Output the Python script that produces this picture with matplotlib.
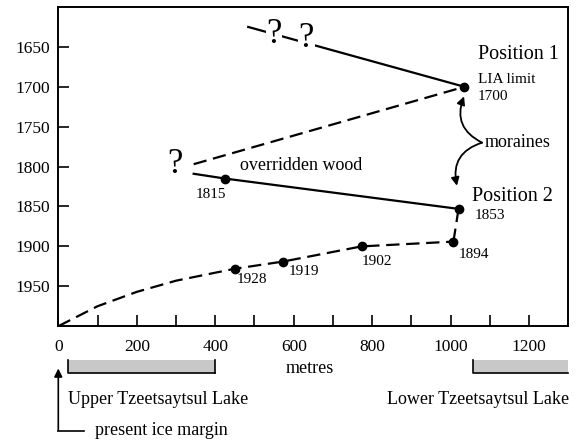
import matplotlib
matplotlib.use("Agg")
import matplotlib.pyplot as plt
from matplotlib.patches import Rectangle

plt.rcParams['font.family'] = ['Liberation Serif', 'DejaVu Serif']

# --- data ---
pos1 = (1035, 1700)
top_line_x = [484, 1035]
top_line_y = [1625, 1700]
dash_upper_x = [345, 1035]
dash_upper_y = [1797, 1700]
wood_x = [345, 425, 1020]
wood_y = [1809, 1815, 1853]
wood_pts_x = [425, 1020]
wood_pts_y = [1815, 1853]
link_x = [1020, 1007]
link_y = [1853, 1894]
retreat_x = [0, 100, 200, 300, 450, 573, 773, 1007]
retreat_y = [2000, 1975, 1957, 1943, 1928, 1919, 1900, 1894]
retreat_pts_x = [450, 573, 773, 1007]
retreat_pts_y = [1928, 1919, 1900, 1894]
retreat_labels = ['1928', '1919', '1902', '1894']
upper_lake = (25, 400)
lower_lake = (1057, 1300)
yticks = [1650, 1700, 1750, 1800, 1850, 1900, 1950]
xticks = [0, 200, 400, 600, 800, 1000, 1200]

fig = plt.figure(figsize=(5.8, 4.45), dpi=100)
ax = fig.add_axes([0.1005, 0.267, 0.8795, 0.7173])
ax.set_xlim(0, 1300)
ax.set_ylim(2000, 1600)

lw = 1.6
dash = (0, (6, 3))
ax.plot(top_line_x, top_line_y, color='black', lw=lw, zorder=2)
ax.plot(dash_upper_x, dash_upper_y, color='black', lw=lw, linestyle=dash)
ax.plot(*pos1, 'o', color='black', ms=6)
ax.plot(wood_x, wood_y, color='black', lw=lw)
ax.plot(wood_pts_x, wood_pts_y, 'o', color='black', ms=6)
ax.plot(link_x, link_y, color='black', lw=lw, linestyle=dash)
ax.plot(retreat_x, retreat_y, color='black', lw=lw, linestyle=dash)
ax.plot(retreat_pts_x, retreat_pts_y, 'o', color='black', ms=6)

label_offsets = [(5, 13), (15, 12), (0, 19), (14, 16)]
for x, y, t, (dx, dy) in zip(retreat_pts_x, retreat_pts_y, retreat_labels, label_offsets):
    ax.text(x + dx, y + dy, t, fontsize=11, ha='left', va='center')

# question marks
qkw = dict(fontsize=25, ha='center', va='center', zorder=5,
           bbox=dict(facecolor='white', edgecolor='none', pad=0.5))
ax.text(550, 1634, '?', **qkw)
ax.text(632, 1640, '?', **qkw)
ax.text(297, 1797, '?', fontsize=25, ha='center', va='center')

ax.text(1070, 1660, 'Position 1', fontsize=14.5, ha='left', va='center')
ax.text(1070, 1691, 'LIA limit', fontsize=11, ha='left', va='center')
ax.text(1070, 1712, '1700', fontsize=11, ha='left', va='center')
ax.text(1054, 1837, 'Position 2', fontsize=14.5, ha='left', va='center')
ax.text(1062, 1861, '1853', fontsize=11, ha='left', va='center')
ax.text(463, 1799, 'overridden wood', fontsize=13, ha='left', va='center')
ax.text(349, 1835, '1815', fontsize=11, ha='left', va='center')
ax.text(1087, 1770, 'moraines', fontsize=13, ha='left', va='center')

ax.annotate('', xy=(1034, 1712), xytext=(1080, 1770),
            arrowprops=dict(arrowstyle='-|>', color='black', lw=1.3,
                            mutation_scale=12, shrinkA=0, shrinkB=0,
                            connectionstyle='arc3,rad=-0.45'))
ax.annotate('', xy=(1016, 1824), xytext=(1080, 1770),
            arrowprops=dict(arrowstyle='-|>', color='black', lw=1.3,
                            mutation_scale=12, shrinkA=0, shrinkB=0,
                            connectionstyle='arc3,rad=0.45'))

# ticks
ax.set_yticks(yticks)
ax.set_xticks(xticks)
ax.set_xticks(range(100, 1300, 200), minor=True)
ax.tick_params(axis='both', which='both', direction='in', length=8, width=1.2,
               labelsize=12.5)
ax.tick_params(axis='x', which='both', top=False, pad=9)
ax.tick_params(axis='y', which='both', right=False, pad=6)
for s in ax.spines.values():
    s.set_linewidth(1.4)

# lakes below axis
for (x0, x1), right_edge in [(upper_lake, True), (lower_lake, False)]:
    ax.add_patch(Rectangle((x0, 2043), x1 - x0, 16, facecolor='#c8c8c8',
                           edgecolor='none', clip_on=False))
    ax.plot([x0, x0, x1], [2043, 2059, 2059], color='black', lw=1.2, clip_on=False)
    if right_edge:
        ax.plot([x1, x1], [2043, 2059], color='black', lw=1.2, clip_on=False)

ax.text(641, 2053, 'metres', fontsize=13, ha='center', va='center')
ax.text(25, 2092, 'Upper Tzeetsaytsul Lake', fontsize=13, ha='left', va='center')
ax.text(1303, 2092, 'Lower Tzeetsaytsul Lake', fontsize=13, ha='right', va='center')

ax.annotate('', xy=(0, 2053), xytext=(0, 2131),
            arrowprops=dict(arrowstyle='-|>', color='black', lw=1.2,
                            mutation_scale=12, shrinkA=0, shrinkB=0),
            annotation_clip=False)
ax.plot([0, 65], [2131, 2131], color='black', lw=1.2, clip_on=False)
ax.text(94, 2131, 'present ice margin', fontsize=13, ha='left', va='center')

fig.savefig('out.png', dpi=100)
